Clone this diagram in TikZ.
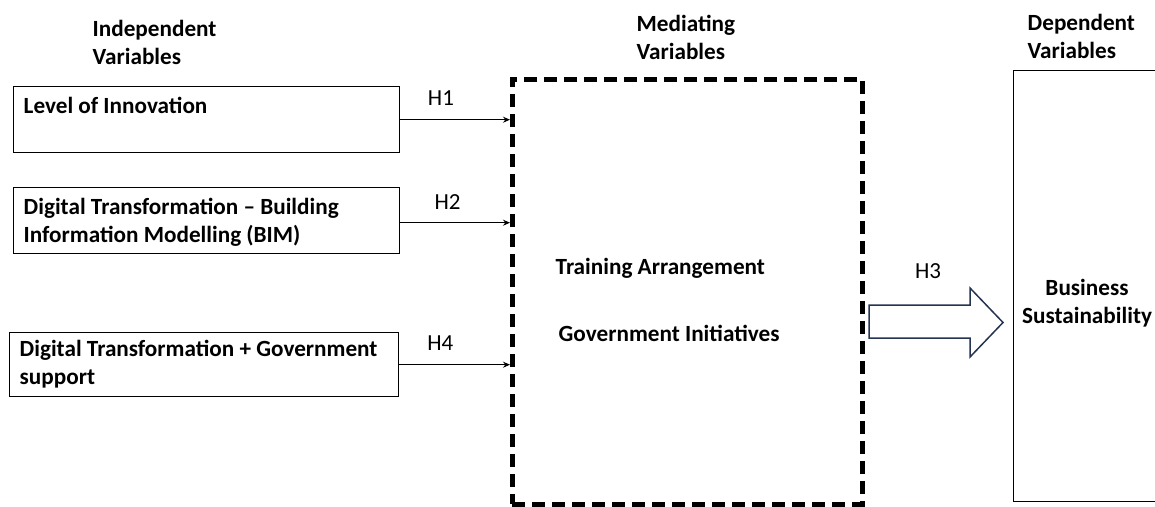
\documentclass[tikz,border=0pt]{standalone}
\usepackage{fontspec}
\setmainfont{Carlito}
\usetikzlibrary{arrows.meta}
\definecolor{arrowblue}{RGB}{37,52,82}
\begin{document}
\begin{tikzpicture}[x=1pt,y=-1pt,line width=1.4pt,font=\fontsize{23}{28}\selectfont,
  varbox/.style={draw,rectangle,inner sep=0pt,anchor=north west},
  boxtext/.style={font=\fontsize{23.2}{28}\selectfont\bfseries,align=left,inner sep=0pt,anchor=base west},
  hyp/.style={inner sep=0pt,anchor=base},
  link/.style={line width=1.2pt,-{Stealth[length=7pt,width=6pt]}}]
\path[use as bounding box,clip] (0,0) rectangle (1155,506);
\node[boxtext] (ivhead) at (92,64) {Independent\\Variables};
\node[boxtext] (mvhead) at (636,59) {Mediating\\Variables};
\node[boxtext] (dvhead) at (1027,58.5) {Dependent\\Variables};
\node[varbox,minimum width=386,minimum height=66] (inno) at (13,86) {};
\node[varbox,minimum width=386,minimum height=66] (bim) at (13,187) {};
\node[varbox,minimum width=389,minimum height=64] (gov) at (9,332) {};
\node[boxtext] (innotext) at (23,113) {Level of Innovation};
\node[boxtext] (bimtext) at (23,242) {Digital Transformation -- Building\\Information Modelling (BIM)};
\node[boxtext] (govtext) at (19,384) {Digital Transformation + Government\\support};
\node[varbox,line width=4.5pt,dash pattern=on 13pt off 7pt,minimum width=350,minimum height=425] (med) at (510,77) {};
\node[boxtext] (train) at (555,274) {Training Arrangement};
\node[boxtext] (init) at (558,341) {Government Initiatives};
\node[varbox,minimum width=170,minimum height=431] (dep) at (1013,70) {};
\node[boxtext,align=center,anchor=base] (bs) at (1087,323) {Business\\Sustainability};
\draw[link] (inno.east) -- (inno.east -| med.west) node[hyp,pos=.37,above=14pt] {H1};
\draw[link] (bim.east) ++(0,2) coordinate (bimout) -- (bimout -| med.west) node[hyp,pos=.43,above=13pt] {H2};
\draw[link] (gov.east) -- (gov.east -| med.west) node[hyp,pos=.37,above=14pt] {H4};
\draw[arrowblue,line width=1.5pt,line join=miter] (869,305) -- (970,305) -- (970,288) -- (1003,322.5) -- (970,357) -- (970,338) -- (869,338) -- cycle;
\node[hyp] (h3) at (928,278) {H3};
\end{tikzpicture}
\end{document}
